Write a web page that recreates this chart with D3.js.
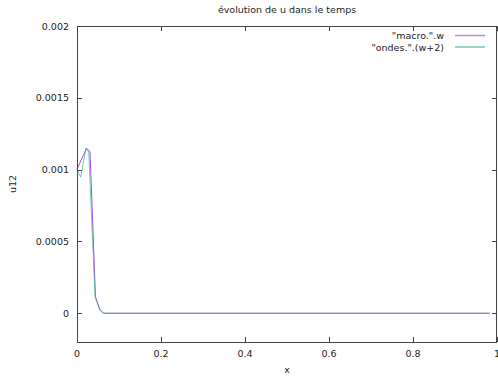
<!DOCTYPE html>
<html>
<head>
<meta charset="utf-8">
<script src="https://cdn.jsdelivr.net/npm/d3@7"></script>
<style>
  body { margin: 0; background: #fff; }
  text { font-family: "DejaVu Sans", sans-serif; font-size: 9.5px; fill: #222; }
</style>
</head>
<body>
<div id="chart"></div>
<script>
document.addEventListener("DOMContentLoaded", function() {

  // "macro.".w
  const macroX = [0, 0.0226, 0.031, 0.044, 0.055, 0.064, 0.2, 0.5, 0.8, 0.983];
  const macroY = [0.001003, 0.001148, 0.001125, 0.000114, 0.000023, 0, 0, 0, 0, 0];

  // "ondes.".(w+2)
  const ondesX = [0, 0.0088, 0.0214, 0.028, 0.043, 0.054, 0.062, 0.2, 0.5, 0.8, 0.983];
  const ondesY = [0.000998, 0.000947, 0.001148, 0.001123, 0.000114, 0.000023, 0, 0, 0, 0, 0];

  const xTicks = [0, 0.2, 0.4, 0.6, 0.8, 1];
  const xTickLabels = ["0", "0.2", "0.4", "0.6", "0.8", "1"];
  const yTicks = [0, 0.0005, 0.001, 0.0015, 0.002];
  const yTickLabels = ["0", "0.0005", "0.001", "0.0015", "0.002"];

  const width = 498, height = 379;
  const margin = { left: 77, right: 1, top: 26, bottom: 37 };

  const svg = d3.select("#chart").append("svg")
    .attr("width", width)
    .attr("height", height);

  const x = d3.scaleLinear().domain([0, 1]).range([margin.left, width - margin.right]);
  const y = d3.scaleLinear().domain([-0.0002, 0.002]).range([height - margin.bottom, margin.top]);

  // tick marks, inward on all four sides
  const tl = 5;
  const ticks = svg.append("g").attr("stroke", "#444").attr("stroke-width", 1);
  xTicks.forEach(t => {
    const px = Math.round(x(t)) + 0.5;
    ticks.append("line").attr("x1", px).attr("x2", px)
      .attr("y1", y(-0.0002)).attr("y2", y(-0.0002) - tl);
    ticks.append("line").attr("x1", px).attr("x2", px)
      .attr("y1", y(0.002)).attr("y2", y(0.002) + tl);
  });
  yTicks.forEach(t => {
    const py = Math.round(y(t)) + 0.5;
    ticks.append("line").attr("x1", x(0)).attr("x2", x(0) + tl)
      .attr("y1", py).attr("y2", py);
    ticks.append("line").attr("x1", x(1)).attr("x2", x(1) - tl)
      .attr("y1", py).attr("y2", py);
  });

  // tick labels
  svg.append("g").selectAll("text").data(xTicks).enter().append("text")
    .attr("x", d => x(d))
    .attr("y", y(-0.0002) + 15)
    .attr("text-anchor", "middle")
    .text((d, i) => xTickLabels[i]);

  svg.append("g").selectAll("text").data(yTicks).enter().append("text")
    .attr("x", x(0) - 8)
    .attr("y", d => y(d) + 3.5)
    .attr("text-anchor", "end")
    .text((d, i) => yTickLabels[i]);

  const purple = "#a64ee0", green = "#33b38c";

  // lines
  const line = d3.line().x(d => x(d[0])).y(d => y(d[1]));
  svg.append("path")
    .datum(d3.zip(macroX, macroY))
    .attr("fill", "none")
    .attr("stroke", purple)
    .attr("stroke-width", 1)
    .attr("d", line);
  svg.append("path")
    .datum(d3.zip(ondesX, ondesY))
    .attr("fill", "none")
    .attr("stroke", green)
    .attr("stroke-opacity", 0.7)
    .attr("stroke-width", 1)
    .attr("d", line);

  // border
  svg.append("rect")
    .attr("x", x(0) + 0.5)
    .attr("y", y(0.002) + 0.5)
    .attr("width", x(1) - x(0) - 1)
    .attr("height", y(-0.0002) - y(0.002))
    .attr("fill", "none")
    .attr("stroke", "#444")
    .attr("stroke-width", 1);

  // legend
  const legendItems = [
    { name: "\"macro.\".w", color: "#c184ef" },
    { name: "\"ondes.\".(w+2)", color: "#6fcaad" }
  ];
  const legend = svg.selectAll(".legend").data(legendItems).enter().append("g")
    .attr("class", "legend")
    .attr("transform", (d, i) => `translate(0,${35.5 + i * 11.5})`);
  legend.append("text")
    .attr("x", 444)
    .attr("y", 3.5)
    .attr("text-anchor", "end")
    .text(d => d.name);
  legend.append("line")
    .attr("x1", 455).attr("x2", 485)
    .attr("y1", 0).attr("y2", 0)
    .attr("stroke", d => d.color)
    .attr("stroke-width", 1.5);

  // titles
  svg.append("text")
    .attr("x", (x(0) + x(1)) / 2)
    .attr("y", 13)
    .attr("text-anchor", "middle")
    .text("évolution de u dans le temps");
  svg.append("text")
    .attr("x", (x(0) + x(1)) / 2)
    .attr("y", 373)
    .attr("text-anchor", "middle")
    .text("x");
  svg.append("text")
    .attr("transform", `translate(16,${(y(0.002) + y(-0.0002)) / 2}) rotate(-90)`)
    .attr("text-anchor", "middle")
    .text("u12");
});
</script>
</body>
</html>
